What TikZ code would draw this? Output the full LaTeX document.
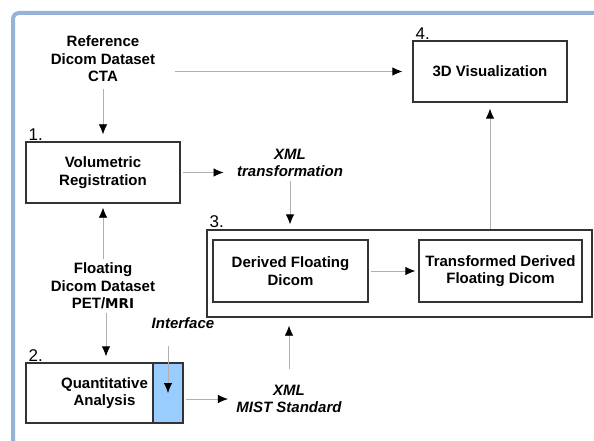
\documentclass[tikz,border=0pt]{standalone}
\usepackage{fontspec}
\setmainfont{Liberation Sans}
\newfontfamily\heavyfont{DejaVu Sans}
\usetikzlibrary{arrows.meta,positioning}

\definecolor{framebl}{RGB}{149,179,215}
\definecolor{ifaceblue}{RGB}{153,204,255}
\definecolor{boxgray}{RGB}{51,51,51}
\definecolor{linegray}{RGB}{176,176,176}
\newcommand{\boxfont}{\bfseries\fontsize{15}{17.5}\selectfont}
\newcommand{\tagfont}{\bfseries\itshape\fontsize{15}{17.5}\selectfont}

\begin{document}
\begin{tikzpicture}[x=1pt,y=-1pt,
    block/.style={draw=boxgray,line width=1.3pt,minimum height=61pt,align=center,font=\boxfont},
    note/.style={align=center,font=\boxfont},
    tag/.style={align=center,font=\tagfont},
    num/.style={anchor=south west,inner sep=1pt,xshift=2pt,font=\fontsize{17}{17}\selectfont},
    flow/.style={draw=linegray,line width=0.8pt,-{Latex[black,length=10pt,width=8.5pt]}}]
    \useasboundingbox (0,0) rectangle (594,441);
    \draw[framebl,line width=4pt,rounded corners=6pt] (13,13) rectangle (640,480);

    \node[note] (ref) at (103,59) {Reference\\Dicom Dataset\\CTA};
    \node[block,minimum width=154pt] (vis) at (490,71.5) {3D Visualization};
    \node[block,minimum width=154pt] (vol) at (103,172.5) {Volumetric\\Registration};
    \node[tag] (xmlt) at (290,163) {XML\\transformation};
    \node[draw=boxgray,line width=1.3pt,minimum width=385pt,minimum height=87pt,inner sep=0pt] (grp) at (399.5,273.5) {};
    \node[block,minimum width=155pt,minimum height=62pt] (dfd) at (290.5,271) {Derived Floating\\Dicom};
    \node[block,minimum width=163pt,minimum height=62pt] (tdfd) at (500.5,271) {Transformed Derived\\Floating Dicom};
    \node[note] (flo) at (103,286) {Floating\\Dicom Dataset\\PET/{\heavyfont\fontsize{13.5}{17.5}\selectfont MRI}};
    \node[block,minimum width=157pt,minimum height=60pt] (qa) at (104.5,393) {Quantitative\\Analysis};
    \node[draw=boxgray,fill=ifaceblue,line width=1.3pt,minimum width=30pt,minimum height=60pt,inner sep=0pt,anchor=east] (ifbox) at (qa.east) {};
    \node[tag] (iface) at (183,323) {Interface};
    \node[tag] (xmlm) at (289,399) {XML\\MIST Standard};

    % step numbers
    \node[num] (n1) at (vol.north west) {1.};
    \node[num] (n2) at (qa.north west) {2.};
    \node[num] (n3) at (grp.north west) {3.};
    \node[num] (n4) at (vis.north west) {4.};

    \draw[flow,shorten <=16pt,shorten >=10pt] (ref.east |- vis.west) -- (vis.west);
    \draw[flow,shorten <=3pt,shorten >=7pt] (ref) -- (vol);
    \draw[flow,shorten <=2pt,shorten >=10pt] (vol.east) -- (vol.east -| xmlt.west);
    \draw[flow,shorten >=5pt] (xmlt) -- (xmlt |- grp.north);
    \draw[flow,shorten <=2pt,shorten >=3pt] (dfd) -- (tdfd);
    \draw[flow,shorten >=6pt] (grp.north -| vis.south) -- (vis.south);
    \draw[flow,shorten >=4pt] (flo) -- (vol);
    \draw[flow,shorten >=6pt] ([xshift=3pt]flo.south) -- ([xshift=3pt]flo.south |- qa.north);
    \draw[flow,shorten <=14pt] (ifbox.center |- iface.south) -- (ifbox.center);
    \draw[flow,shorten <=2pt,shorten >=5pt] (qa.east |- xmlm.west) -- (xmlm.west);
    \draw[flow,shorten <=12pt,shorten >=8pt] (xmlm) -- (xmlm |- grp.south);
\end{tikzpicture}
\end{document}
